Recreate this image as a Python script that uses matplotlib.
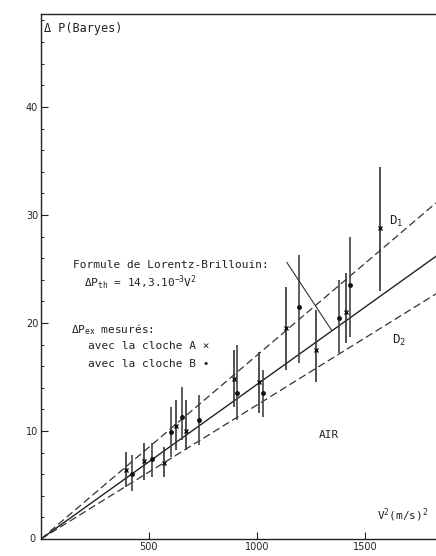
import numpy as np
import matplotlib
matplotlib.use('Agg')
import matplotlib.pyplot as plt
from matplotlib.ticker import MultipleLocator

plt.rcParams['font.family'] = ['DejaVu Sans Mono', 'DejaVu Sans']
plt.rcParams['mathtext.fontset'] = 'custom'
plt.rcParams['mathtext.rm'] = 'DejaVu Sans Mono'
plt.rcParams['mathtext.it'] = 'DejaVu Sans Mono'

# Measured points (V^2, DeltaP in baryes): centre, low, high.
v2_A = [393, 477, 569, 625, 671, 893, 1009, 1134, 1273, 1412, 1570]
dp_A = [6.4, 7.2, 7.0, 10.5, 10.0, 14.8, 14.5, 19.5, 17.5, 21.0, 28.8]
lo_A = [4.8, 5.5, 5.7, 8.2, 8.2, 12.2, 11.7, 15.6, 14.5, 18.1, 23.0]
hi_A = [8.1, 8.9, 8.5, 12.9, 12.9, 17.5, 17.3, 23.3, 21.2, 24.6, 34.4]

v2_B = [421, 514, 602, 653, 731, 907, 1028, 1195, 1380, 1431]
dp_B = [6.0, 7.4, 9.9, 11.3, 11.0, 13.5, 13.5, 21.5, 20.5, 23.5]
lo_B = [4.4, 5.7, 7.6, 9.2, 8.7, 11.0, 11.3, 16.3, 17.2, 18.7]
hi_B = [7.8, 8.9, 12.2, 14.1, 13.3, 18.0, 15.6, 26.3, 24.0, 28.0]

# slopes of the three straight lines through the origin
slope_D1 = 17.0e-3
slope_th = 14.3e-3
slope_D2 = 12.4e-3

xticks = [500, 1000, 1500]
yticks = [10, 20, 30, 40]

ink = '#222222'

fig = plt.figure(figsize=(4.36, 5.56), dpi=100)
ax = fig.add_axes([41 / 436, 17 / 556, 395 / 436, 525 / 556])

xmax = 1830
ymax = 48.6
x = np.array([0, xmax])

ax.plot(x, slope_th * x, '-', color=ink, lw=1.0)
ax.plot(x, slope_D1 * x, color='#333333', lw=0.9, dashes=(6, 3))
ax.plot(x, slope_D2 * x, color='#333333', lw=0.9, dashes=(6, 3))

ax.vlines(v2_A, lo_A, hi_A, color='#333333', lw=1.2)
ax.vlines(v2_B, lo_B, hi_B, color='#444444', lw=1.2)
ax.plot(v2_A, dp_A, 'x', color='#111111', ms=3, mew=1)
ax.plot(v2_B, dp_B, 'o', color='#111111', ms=2.5)

# leader line from the label to the theoretical line
ax.plot([1139, 1347], [25.6, 19.3], '-', color='#333333', lw=0.8)

fs = 8
ax.text(150, 25.4, 'Formule de Lorentz-Brillouin:', fontsize=fs, va='center', color=ink)
ax.text(199, 23.7, '\u0394P$_{th}$ = 14,3.10$^{-3}$V$^2$', fontsize=fs, va='center', color=ink)
ax.text(139, 19.4, '\u0394P$_{ex}$ mesurés:', fontsize=fs, va='center', color=ink)
ax.text(220, 17.9, 'avec la cloche A \u00d7', fontsize=fs, va='center', color=ink)
ax.text(220, 16.2, 'avec la cloche B \u2022', fontsize=fs, va='center', color=ink)
ax.text(1612, 29.4, 'D$_1$', fontsize=9, va='center', color=ink)
ax.text(1625, 18.4, 'D$_2$', fontsize=9, va='center', color=ink)
ax.text(1333, 9.6, 'AIR', fontsize=8, va='center', ha='center', color=ink)
ax.text(14, 47.3, '\u0394 P(Baryes)', fontsize=8.5, va='center', color=ink)
ax.text(1555, 2.2, 'V$^2$(m/s)$^2$', fontsize=8, va='center', color=ink)

ax.set_xlim(0, xmax)
ax.set_ylim(0, ymax)
ax.set_xticks(xticks)
ax.set_yticks(yticks)
ax.yaxis.set_minor_locator(MultipleLocator(2))
ax.tick_params(direction='in', length=5, width=0.8, labelsize=7, colors=ink, pad=2)
ax.tick_params(which='minor', direction='in', length=2, width=0.6)
for lab in ax.get_xticklabels() + ax.get_yticklabels():
    lab.set_family('DejaVu Sans')
ax.text(-25, 0, '0', fontsize=7, ha='right', va='center', color=ink, family='DejaVu Sans')

ax.spines['right'].set_visible(False)
for s in ['left', 'top', 'bottom']:
    ax.spines[s].set_linewidth(1.0)
    ax.spines[s].set_color(ink)

fig.savefig('out.png', dpi=100)
